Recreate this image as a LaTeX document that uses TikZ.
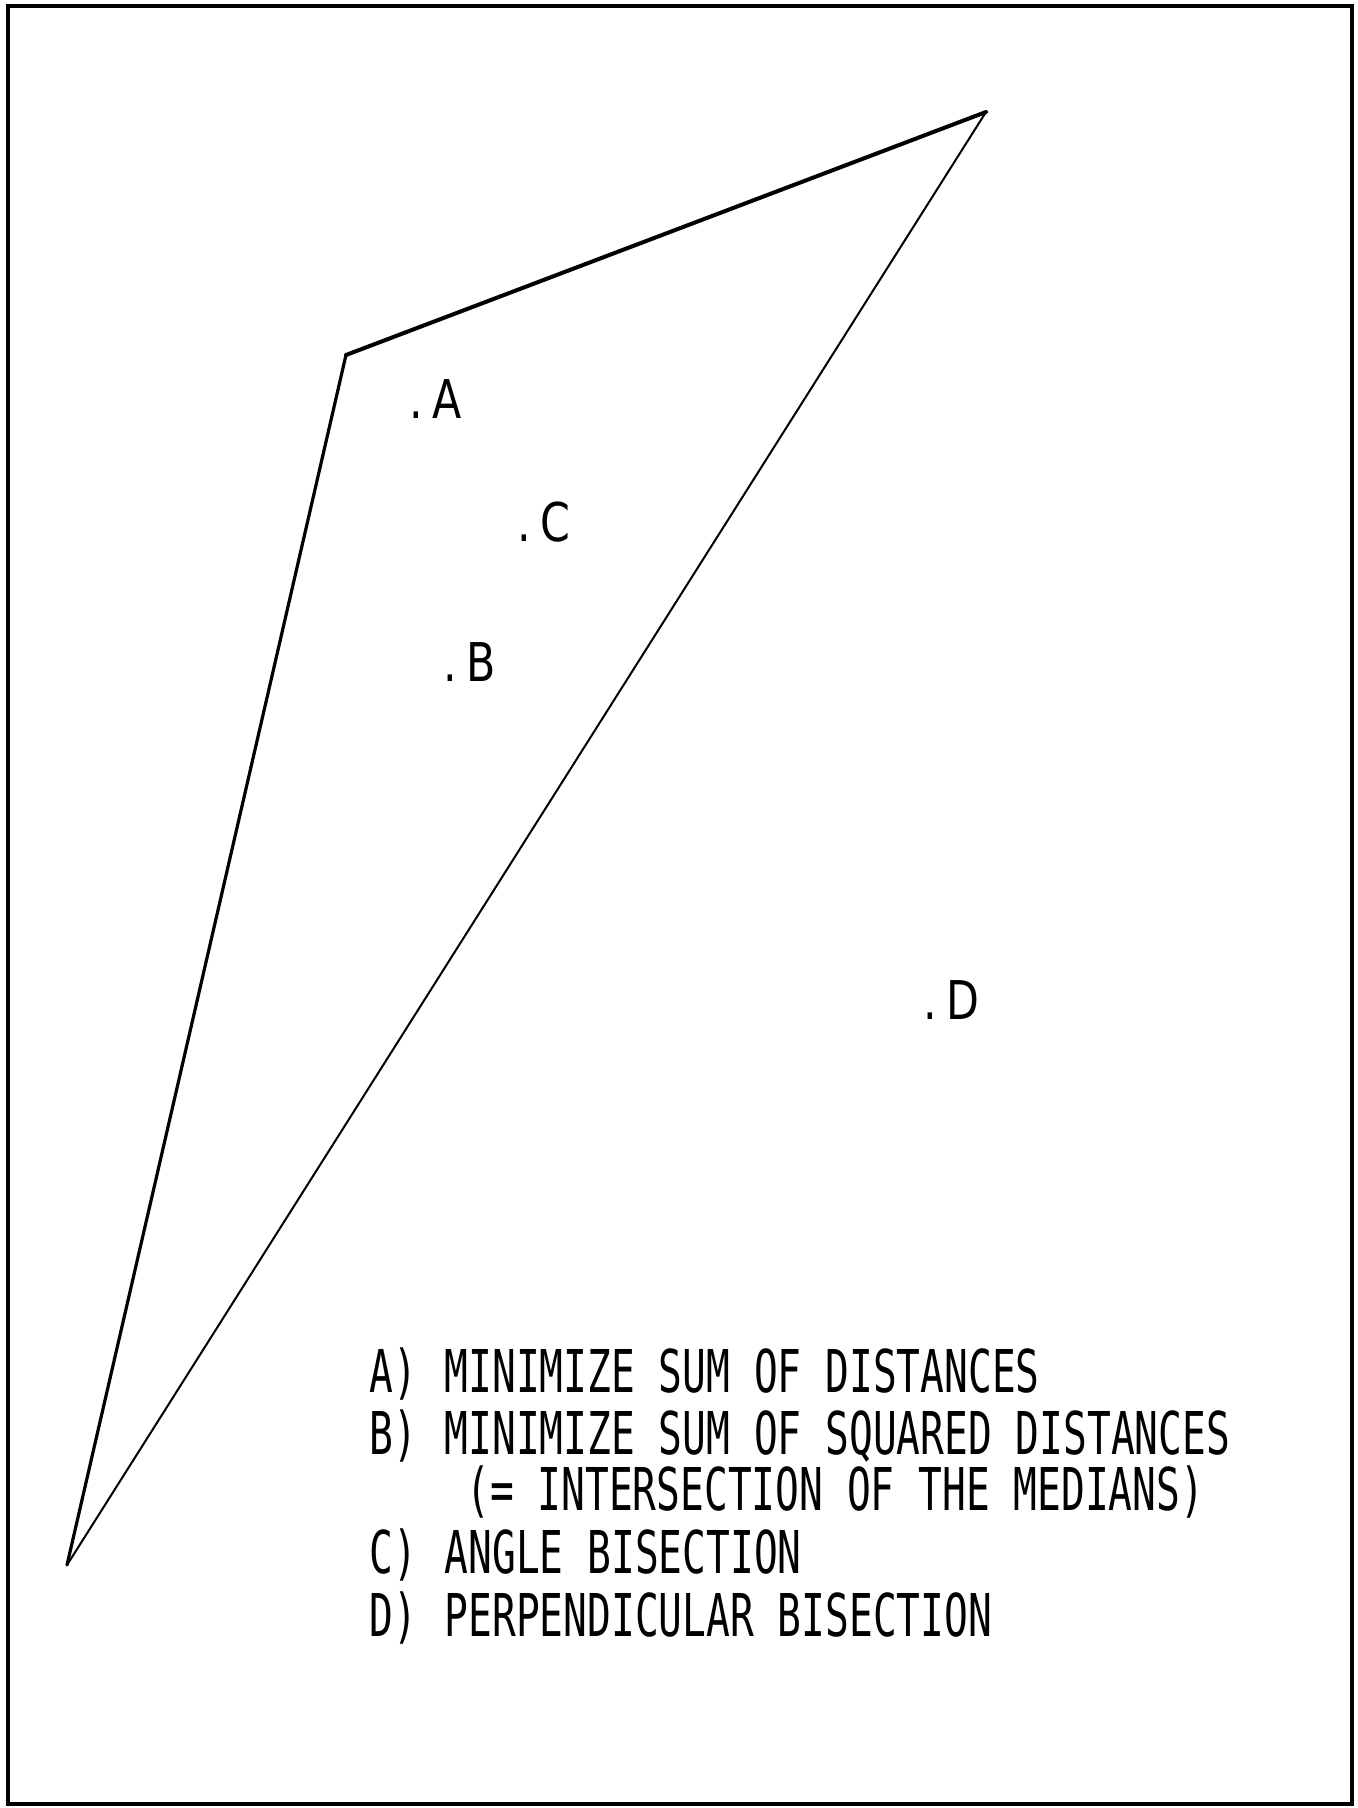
\documentclass[tikz,border=0pt]{standalone}
\usepackage{fontspec}
\newfontfamily\plotfont[FakeStretch=0.67]{DejaVu Sans Mono}
\newfontfamily\lblfont[FakeStretch=0.8]{DejaVu Sans}
\begin{document}
\begin{tikzpicture}[x=0.5pt,y=-0.5pt,
  frame/.style={line width=1.6pt},
  edge/.style={line width=1.2pt, line join=round, line cap=round},
  legend/.style={inner sep=0pt, anchor=base west, font=\plotfont\fontsize{29.5pt}{30pt}\selectfont},
  ptlabel/.style={inner sep=0pt, anchor=base west, font=\lblfont\fontsize{26.7pt}{27pt}\selectfont}]
\useasboundingbox (0,0) rectangle (1357,1808);
\draw[frame] (8,6) rectangle (1352,1804);
\draw[line width=1pt] (8,5) -- (1352,5);
% triangle
\coordinate (P) at (346,355);
\coordinate (Q) at (986,112);
\coordinate (R) at (67,1565);
\draw[edge, line width=2pt] (P) -- (Q);
\draw[edge, line width=1.6pt] (P) -- (R);
\draw[edge, line width=1pt] (Q) -- (R);
% points
\node[ptlabel] (A) at (409,418) {.\kern5pt A};
\node[ptlabel] (C) at (517,541) {.\kern5pt C};
\node[ptlabel] (B) at (443,681) {.\kern5pt B};
\node[ptlabel] (D) at (923,1019) {.\kern5pt D};
% legend
\node[legend] (la) at (369,1392) {A)\kern2pt\ MINIMIZE SUM OF DISTANCES};
\node[legend] (lb) at (369,1454) {B)\kern2pt\ MINIMIZE SUM OF SQUARED DISTANCES};
\node[legend] (lm) at (466,1510) {(= INTERSECTION OF THE MEDIANS)};
\node[legend] (lc) at (369,1573) {C)\kern2pt\ ANGLE BISECTION};
\node[legend] (ld) at (369,1636) {D)\kern2pt\ PERPENDICULAR BISECTION};
\end{tikzpicture}
\end{document}
